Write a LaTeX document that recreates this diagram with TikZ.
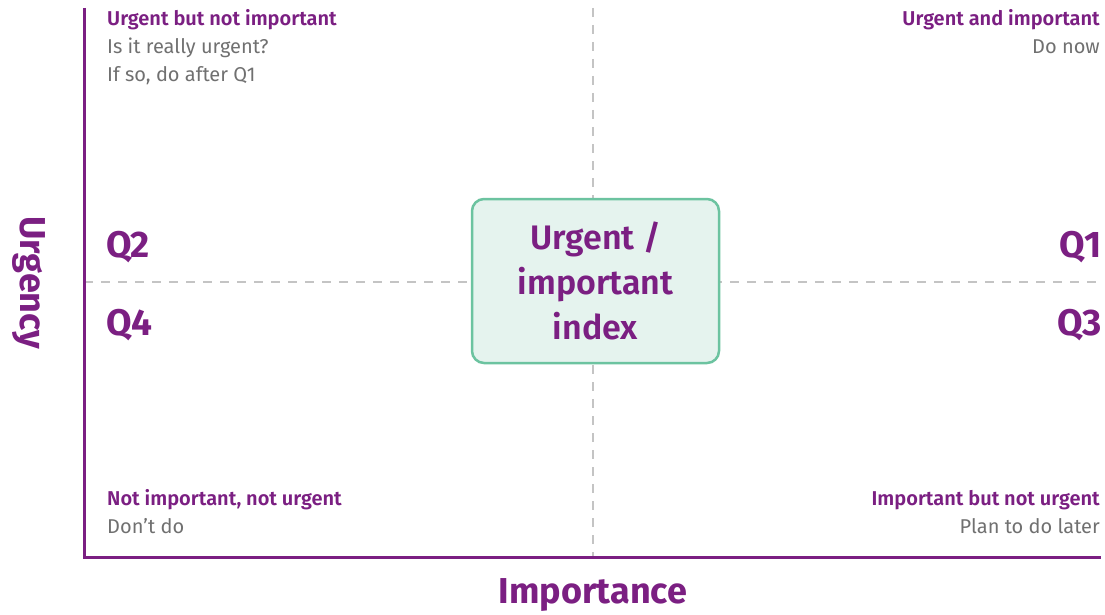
\documentclass[tikz,border=0pt]{standalone}
\usepackage{fontspec}
\setmainfont{Fira Sans}
\newfontfamily\boldf{Fira Sans SemiBold}
\definecolor{purp}{HTML}{7B1F82}
\definecolor{txtgray}{HTML}{707070}
\definecolor{dashgray}{HTML}{C4C4C4}
\definecolor{boxfill}{HTML}{E5F3EE}
\definecolor{boxline}{HTML}{6CC3A0}
\begin{document}
\begin{tikzpicture}[x=1pt,y=-1pt,
  axisline/.style={draw=purp,line width=3pt},
  divline/.style={draw=dashgray,line width=1.2pt,dash pattern=on 9pt off 8pt},
  headtxt/.style={text=purp,font=\boldf\fontsize{20}{22}\selectfont,inner sep=0pt},
  subtxt/.style={text=txtgray,font=\fontsize{20}{22}\selectfont,inner sep=0pt},
  qtxt/.style={text=purp,font=\bfseries\fontsize{37}{40}\selectfont,inner sep=0pt},
  axtxt/.style={text=purp,font=\bfseries\fontsize{36}{40}\selectfont,inner sep=0pt},
  centerbox/.style={draw=boxline,fill=boxfill,line width=2.5pt,rounded corners=12pt,minimum width=247pt,minimum height=164pt,align=center,text=purp,font=\boldf\fontsize{34}{45}\selectfont}
]
\useasboundingbox (0,0) rectangle (1105,615);
\coordinate (o) at (84,557);
\coordinate (top) at (84,8);
\coordinate (right) at (1101,557);
\coordinate (vt) at (593,8);
\coordinate (vb) at (593,557);
\coordinate (hl) at (84,282);
\coordinate (hr) at (1101,282);
\draw[divline] (vt) -- (vb);
\draw[divline] (hl) -- (hr);
\draw[axisline] (top) -- (o) -- (right);
\node[centerbox] (idx) at (595.5,281) {Urgent /\\important\\index};
% top-left
\node[headtxt,anchor=base west] (tlh) at (107,26) {Urgent but not important};
\node[subtxt,anchor=base west] (tl1) at (107,54) {Is it really urgent?};
\node[subtxt,anchor=base west] (tl2) at (107,82) {If so, do after Q1};
% top-right
\node[headtxt,anchor=base east] (trh) at (1100,26) {Urgent and important};
\node[subtxt,anchor=base east] (tr1) at (1100,54) {Do now};
% bottom-left
\node[headtxt,anchor=base west] (blh) at (107,505) {Not important, not urgent};
\node[subtxt,anchor=base west] (bl1) at (107,533) {Don’t do};
% bottom-right
\node[headtxt,anchor=base east] (brh) at (1100,505) {Important but not urgent};
\node[subtxt,anchor=base east] (br1) at (1100,533) {Plan to do later};
% quadrant labels
\node[qtxt,anchor=base west] (q2) at (106,257) {Q2};
\node[qtxt,anchor=base west] (q4) at (106,335) {Q4};
\node[qtxt,anchor=base east] (q1) at (1102,257) {Q1};
\node[qtxt,anchor=base east] (q3) at (1102,335) {Q3};
% axes labels
\node[axtxt,rotate=-90] (urg) at (29,283) {Urgency};
\node[axtxt,anchor=base] (imp) at (593,603) {Importance};
\end{tikzpicture}
\end{document}
